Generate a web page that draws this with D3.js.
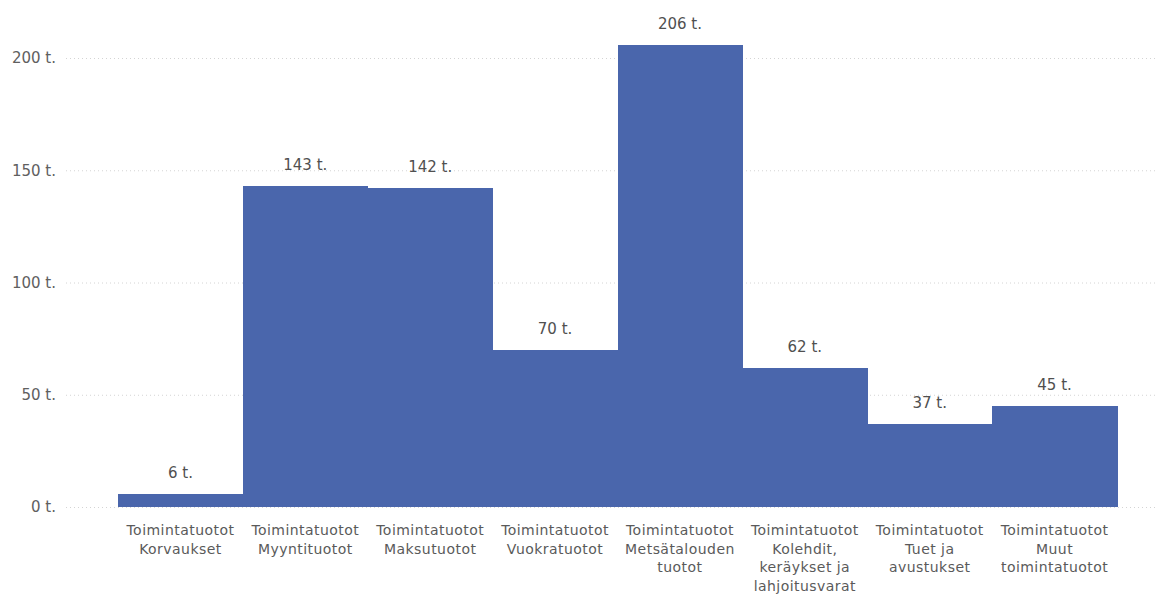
<!DOCTYPE html>
<html>
<head>
<meta charset="utf-8">
<script src="https://cdn.jsdelivr.net/npm/d3@7"></script>
<style>
  body { margin: 0; background: #ffffff; }
  svg { display: block; font-family: "DejaVu Sans", "Open Sans", sans-serif; }
</style>
</head>
<body>
<svg id="chart" width="1157" height="596"></svg>
<script>
// data
let categories = [
    ["Toimintatuotot", "Korvaukset"],
    ["Toimintatuotot", "Myyntituotot"],
    ["Toimintatuotot", "Maksutuotot"],
    ["Toimintatuotot", "Vuokratuotot"],
    ["Toimintatuotot", "Metsätalouden", "tuotot"],
    ["Toimintatuotot", "Kolehdit,", "keräykset ja", "lahjoitusvarat"],
    ["Toimintatuotot", "Tuet ja", "avustukset"],
    ["Toimintatuotot", "Muut", "toimintatuotot"]
];
let values = [6, 143, 142, 70, 206, 62, 37, 45];
let yTicks = [0, 50, 100, 150, 200];

let chart = d3.select("#chart");
let chart_width = 1157;
let chart_height = 596;

// x position scale
let x = d3.scaleBand()
    .domain(d3.range(values.length))
    .range([118, 1117])
    .padding(0);

// y position scale
let y = d3.scaleLinear()
    .domain([0, 200])
    .range([507, 58]);

// gridlines
chart.selectAll("line.grid")
    .data(yTicks)
    .enter()
    .append("line")
    .attr("class", "grid")
    .attr("x1", 66)
    .attr("x2", chart_width)
    .attr("y1", function(d) { return y(d) + 0.5; })
    .attr("y2", function(d) { return y(d) + 0.5; })
    .style("stroke", "#d4d4d4")
    .style("stroke-width", 1)
    .style("stroke-dasharray", "1,3");

// y axis labels
let yAxis = d3.axisLeft(y)
    .tickValues(yTicks)
    .tickSize(0)
    .tickPadding(0)
    .tickFormat(function(d) { return d + " t."; });
let yAxisGroup = chart.append("g")
    .attr("transform", "translate(56,0)")
    .call(yAxis);
yAxisGroup.select(".domain").remove();
yAxisGroup.selectAll("text")
    .style("font-family", "DejaVu Sans, sans-serif")
    .style("font-size", "15px")
    .style("fill", "#606060");

// bars
chart.selectAll("rect.bar")
    .data(values)
    .enter()
    .append("rect")
    .attr("class", "bar")
    .attr("x", function(d, i) { return x(i); })
    .attr("y", function(d) { return y(d); })
    .attr("width", x.bandwidth() + 0.5)
    .attr("height", function(d) { return y(0) - y(d); })
    .attr("shape-rendering", "crispEdges")
    .style("fill", "#4a66ac");

// data labels
chart.selectAll("text.value")
    .data(values)
    .enter()
    .append("text")
    .attr("class", "value")
    .attr("x", function(d, i) { return x(i) + x.bandwidth() / 2; })
    .attr("y", function(d) { return y(d) - 16; })
    .attr("text-anchor", "middle")
    .style("font-size", "15px")
    .style("fill", "#505050")
    .text(function(d) { return d + " t."; });

// category labels
let catGroups = chart.selectAll("text.cat")
    .data(categories)
    .enter()
    .append("text")
    .attr("class", "cat")
    .attr("text-anchor", "middle")
    .style("font-size", "14px")
    .style("letter-spacing", "0.45px")
    .style("fill", "#5a5a5a");

catGroups.selectAll("tspan")
    .data(function(d, i) { return d.map(function(s) { return { s: s, i: i }; }); })
    .enter()
    .append("tspan")
    .attr("x", function(d) { return x(d.i) + x.bandwidth() / 2; })
    .attr("y", function(d, j) { return 535 + j * 18.5; })
    .text(function(d) { return d.s; });
</script>
</body>
</html>
